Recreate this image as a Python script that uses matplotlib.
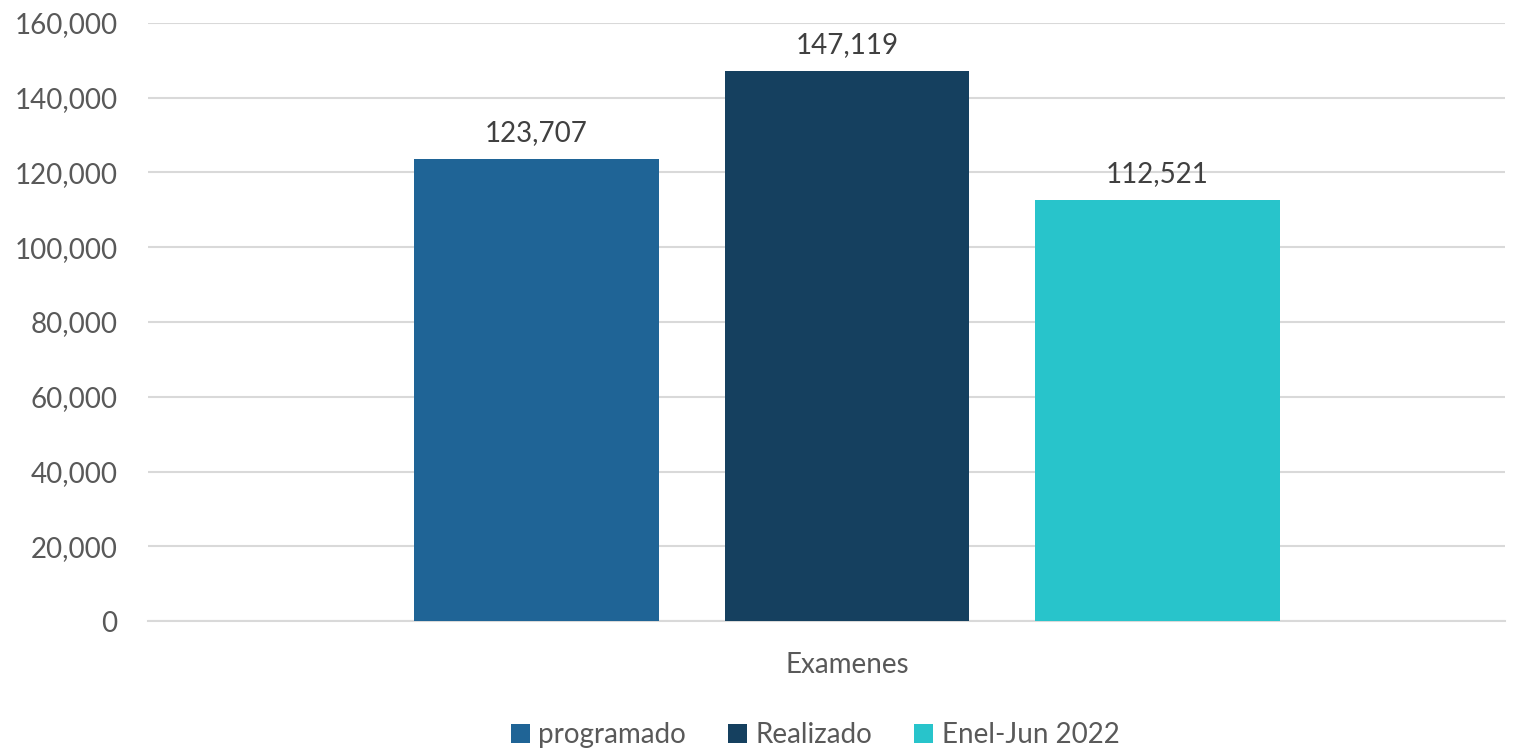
import matplotlib.pyplot as plt
from matplotlib.ticker import FuncFormatter

plt.rcParams['font.family'] = ['Lato', 'DejaVu Sans']

categories = ['programado', 'Realizado', 'Enel-Jun 2022']
values = [123707, 147119, 112521]
colors = ['#1F6496', '#15405F', '#28C4CB']
group_label = 'Examenes'
text_color = '#595959'

fig = plt.figure(figsize=(15.33, 7.51), dpi=100)
ax = fig.add_axes([148 / 1533, 1 - 621 / 751, (1505 - 148) / 1533, (621 - 23) / 751])

offsets = [-1, 0, 1]
for off, val, col, name in zip(offsets, values, colors, categories):
    ax.bar(off, val, width=0.786, color=col, label=name, zorder=3)
    ax.text(off, val + 3500, format(val, ','), ha='center', va='bottom',
            fontsize=20, color='#404040')

ax.set_xlim(-2.251, 2.119)
ax.set_ylim(0, 160000)
ax.set_yticks(range(0, 160001, 20000))
ax.yaxis.set_major_formatter(FuncFormatter(lambda v, p: format(int(v), ',')))
ax.set_xticks([0])
ax.set_xticklabels([group_label])
ax.tick_params(axis='both', length=0, labelsize=20, colors=text_color)
ax.tick_params(axis='x', pad=22)
ax.tick_params(axis='y', pad=22)
ax.grid(axis='y', color='#D9D9D9', linewidth=1.5, zorder=0)
for s in ['top', 'right', 'left']:
    ax.spines[s].set_visible(False)
ax.spines['bottom'].set_color('#D9D9D9')
ax.spines['bottom'].set_linewidth(1.5)

fig.legend(loc='center', bbox_to_anchor=(815 / 1533, 1 - 735 / 751), ncol=3,
           frameon=False, fontsize=20, labelcolor=text_color,
           handlelength=0.7, handleheight=0.7, handletextpad=0.3, columnspacing=1.5)

fig.savefig('out.png', dpi=100)
